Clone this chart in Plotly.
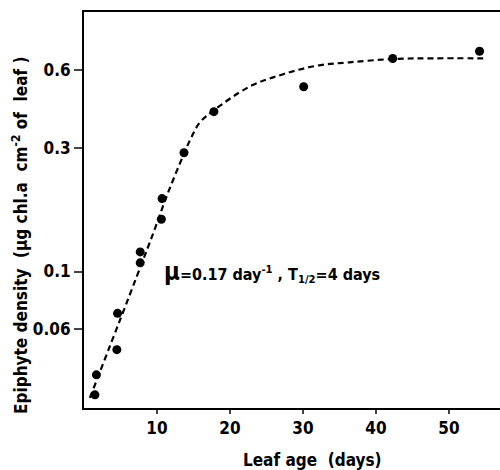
import numpy as np
import plotly.graph_objects as go

# Observed data (leaf age in days, epiphyte density)
age = [1.5, 1.7, 4.5, 4.6, 7.7, 7.7, 10.6, 10.7, 13.7, 17.8, 30.1, 42.3, 54.2]
density = [0.0335, 0.040, 0.050, 0.069, 0.108, 0.119, 0.159, 0.191, 0.287, 0.413, 0.515, 0.662, 0.706]

# Fitted curve
fit_age = [0.8, 9.3, 11.6, 14.8, 15.9, 17.7, 22.7, 27.3, 31.9, 36.4, 42.3, 47.8, 54.7]
fit_density = [0.0326, 0.136, 0.204, 0.333, 0.376, 0.416, 0.516, 0.576, 0.621, 0.640, 0.659, 0.663, 0.663]

x_ticks = [10, 20, 30, 40, 50]
y_ticks = [0.06, 0.1, 0.3, 0.6]
y_ticklabels = ["0.06", "0.1", "0.3", "0.6"]

FONT = "DejaVu Sans Condensed, DejaVu Sans, sans-serif"

fig = go.Figure()
fig.add_trace(go.Scatter(x=fit_age, y=fit_density, mode="lines",
                         line=dict(color="black", width=2.2, dash="6px,4px"),
                         line_shape="spline", showlegend=False, hoverinfo="skip"))
fig.add_trace(go.Scatter(x=age, y=density, mode="markers",
                         marker=dict(color="black", size=9), showlegend=False))

fig.update_layout(
    width=500, height=470,
    margin=dict(l=84, r=0, t=12, b=62),
    paper_bgcolor="white", plot_bgcolor="white",
    font=dict(family=FONT, color="black", size=18, weight="bold"),
    xaxis=dict(range=[0, 57], tickvals=x_ticks, ticks="outside", ticklen=4, tickwidth=2,
               showline=True, linecolor="black", linewidth=2, mirror=True,
               showgrid=False, zeroline=False,
               tickfont=dict(size=17, family=FONT, weight="bold")),
    yaxis=dict(type="log", range=[np.log10(0.0298), 0.0], tickvals=y_ticks, ticktext=y_ticklabels,
               ticks="outside", ticklen=8, tickwidth=2,
               showline=True, linecolor="black", linewidth=2, mirror=False,
               showgrid=False, zeroline=False,
               tickfont=dict(size=17, family=FONT, weight="bold")),
    annotations=[
        dict(x=10.7, y=-1.0, xref="x", yref="y", xanchor="left", yanchor="middle",
             text="<span style='font-size:24px'>μ</span>=0.17 day<sup>-1</sup> , T<sub>1/2</sub>=4 days",
             showarrow=False, font=dict(size=16, family=FONT, weight="bold")),
        dict(x=0.55, y=-0.131, xref="paper", yref="paper", xanchor="center", yanchor="middle",
             text="Leaf age  (days)", showarrow=False,
             font=dict(size=17, family=FONT, weight="bold")),
        dict(x=-0.154, y=0.437, xref="paper", yref="paper", xanchor="center", yanchor="middle",
             text="Epiphyte density  (μg chl.a  cm<sup>-2</sup> of  leaf )", textangle=-90,
             showarrow=False, font=dict(size=17, family=FONT, weight="bold")),
    ],
)

fig.write_html("out.html")
